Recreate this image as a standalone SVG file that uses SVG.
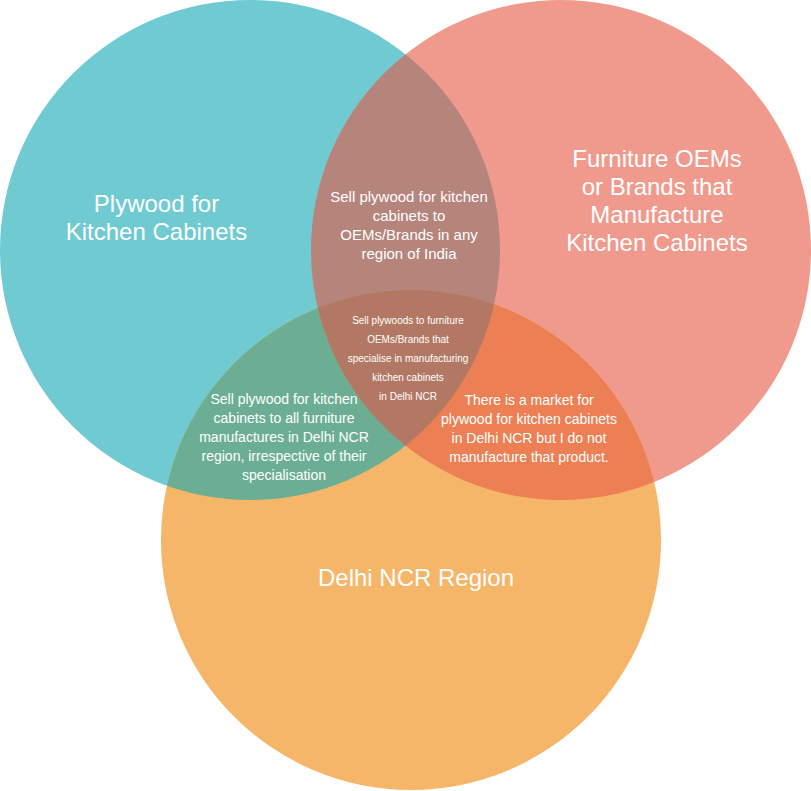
<svg xmlns="http://www.w3.org/2000/svg" width="811" height="791" viewBox="0 0 811 791">
<style>
text{font-family:"Liberation Sans",Arial,Helvetica,sans-serif;fill:#ffffff;text-anchor:middle}
.big{font-size:24px}
.mid{font-size:15px}
.sm{font-size:14px}
.xs{font-size:10px}
</style>
<defs>
<clipPath id="cA"><circle cx="250" cy="250" r="250"/></clipPath>
<clipPath id="cB"><circle cx="561" cy="250" r="250"/></clipPath>
<clipPath id="cC"><circle cx="411" cy="540" r="250"/></clipPath>
</defs>
<g id="plywood">
<circle cx="250" cy="250" r="250" fill="#6FCAD1"/>
</g>
<g id="oems">
<circle cx="561" cy="250" r="250" fill="#F09A8D"/>
</g>
<g id="delhi">
<circle cx="411" cy="540" r="250" fill="#F5B66A"/>
</g>
<g id="plywood-oems">
<g clip-path="url(#cA)"><circle cx="561" cy="250" r="250" fill="#B5847B"/></g>
</g>
<g id="plywood-delhi">
<g clip-path="url(#cA)"><circle cx="411" cy="540" r="250" fill="#6CAE94"/></g>
</g>
<g id="oems-delhi">
<g clip-path="url(#cB)"><circle cx="411" cy="540" r="250" fill="#ED7F55"/></g>
</g>
<g id="all-three">
<g clip-path="url(#cA)"><g clip-path="url(#cB)"><circle cx="411" cy="540" r="250" fill="#B37863"/></g></g>
</g>
<g id="labels">
<text class="big" x="156.5" y="212">Plywood for</text>
<text class="big" x="156.5" y="240">Kitchen Cabinets</text>
<text class="big" x="657" y="167">Furniture OEMs</text>
<text class="big" x="657" y="195">or Brands that</text>
<text class="big" x="657" y="223">Manufacture</text>
<text class="big" x="657" y="251">Kitchen Cabinets</text>
<text class="big" x="416" y="586">Delhi NCR Region</text>
<text class="mid" x="409" y="202">Sell plywood for kitchen</text>
<text class="mid" x="409" y="221">cabinets to</text>
<text class="mid" x="409" y="240">OEMs/Brands in any</text>
<text class="mid" x="409" y="259">region of India</text>
<text class="xs" x="408" y="324">Sell plywoods to furniture</text>
<text class="xs" x="408" y="343">OEMs/Brands that</text>
<text class="xs" x="408" y="362">specialise in manufacturing</text>
<text class="xs" x="408" y="381">kitchen cabinets</text>
<text class="xs" x="408" y="400">in Delhi NCR</text>
<text class="sm" x="284" y="404">Sell plywood for kitchen</text>
<text class="sm" x="284" y="423">cabinets to all furniture</text>
<text class="sm" x="284" y="442">manufactures in Delhi NCR</text>
<text class="sm" x="284" y="461">region, irrespective of their</text>
<text class="sm" x="284" y="480">specialisation</text>
<text class="sm" x="529" y="405">There is a market for</text>
<text class="sm" x="529" y="424">plywood for kitchen cabinets</text>
<text class="sm" x="529" y="443">in Delhi NCR but I do not</text>
<text class="sm" x="529" y="462">manufacture that product.</text>
</g>
</svg>
